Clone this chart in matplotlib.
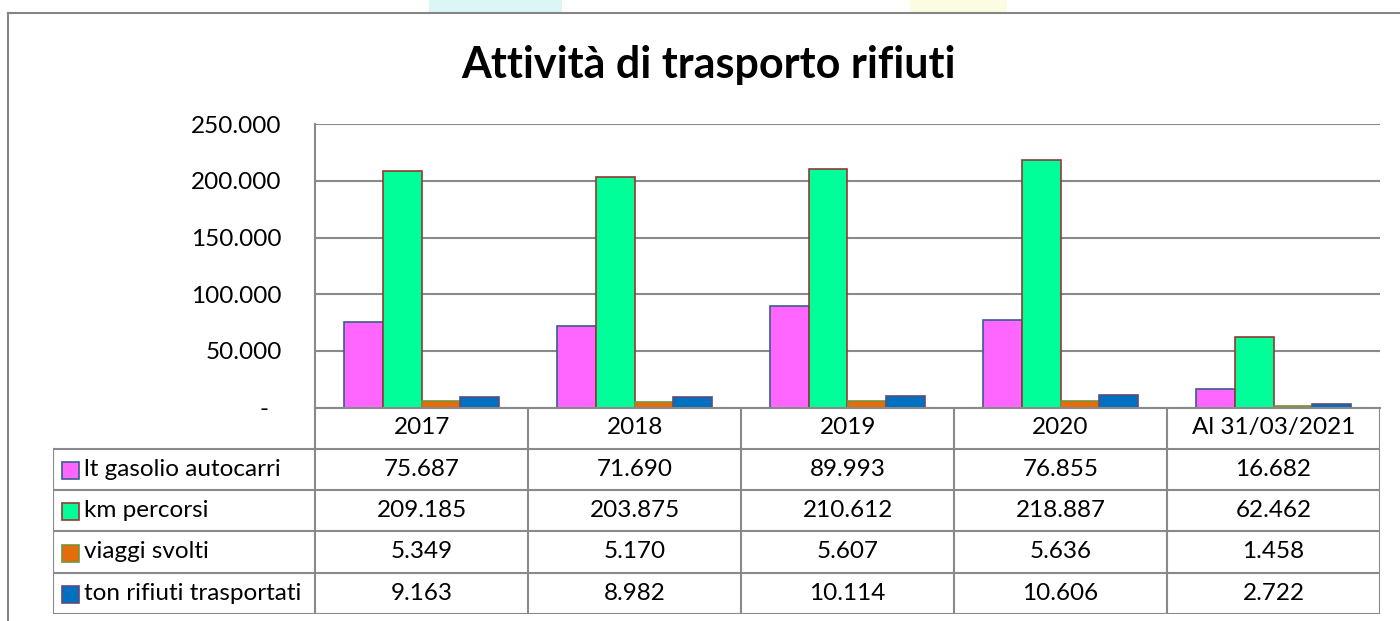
import numpy as np
import matplotlib
matplotlib.use("Agg")
import matplotlib.pyplot as plt
from matplotlib.lines import Line2D
from matplotlib.patches import Rectangle
from matplotlib.ticker import FuncFormatter

plt.rcParams['font.family'] = ['Lato', 'DejaVu Sans']

# data
categories = ["2017", "2018", "2019", "2020", "Al 31/03/2021"]
series_names = ["lt gasolio autocarri", "km percorsi", "viaggi svolti",
                "ton rifiuti trasportati"]
gasolio = [75687, 71690, 89993, 76855, 16682]
km_percorsi = [209185, 203875, 210612, 218887, 62462]
viaggi = [5349, 5170, 5607, 5636, 1458]
ton_rifiuti = [9163, 8982, 10114, 10606, 2722]
series_values = [gasolio, km_percorsi, viaggi, ton_rifiuti]

fill_colors = ['#FF66FF', '#00FF99', '#E46C0A', '#0070C0']
edge_colors = ['#385D8A', '#953735', '#77933C', '#604A7B']
line_grey = '#898989'
txt_size = 17.5

W, H = 1400, 621


def fx(px):
    return px / W


def fy(py):
    return 1 - py / H


def it_num(v):
    # italian thousands separator
    return f"{v:,}".replace(",", ".")


fig = plt.figure(figsize=(W / 100, H / 100), dpi=100)

# faint watermark remains at the top edge
fig.patches.append(Rectangle((fx(429), fy(12)), fx(562) - fx(429), fy(0) - fy(12),
                             transform=fig.transFigure, color='#DCF6F6', lw=0))
fig.patches.append(Rectangle((fx(910), fy(12)), fx(1007) - fx(910), fy(0) - fy(12),
                             transform=fig.transFigure, color='#FCFCE2', lw=0))

# outer chart frame (right and bottom sides are cut off)
fig.add_artist(Line2D([fx(8), fx(8)], [fy(12.5), 0], transform=fig.transFigure,
                      color='#858585', lw=1.5))
fig.add_artist(Line2D([fx(8), 1], [fy(12.5), fy(12.5)], transform=fig.transFigure,
                      color='#858585', lw=1.5))

fig.text(fx(708), fy(78), "Attività di trasporto rifiuti", ha='center',
         va='baseline', fontsize=31, fontweight='bold', color='black')

# bar plot area
ax = fig.add_axes([fx(315), fy(407.5), fx(1380) - fx(315), fy(124.3) - fy(407.5)])
x = np.arange(len(categories))
n = len(series_values)
bar_w = 0.183
for j, vals in enumerate(series_values):
    ax.bar(x + (j - (n - 1) / 2) * bar_w, vals, width=bar_w, color=fill_colors[j],
           edgecolor=edge_colors[j], linewidth=1.2, zorder=3)

ax.set_xlim(-0.5, len(categories) - 0.5)
ax.set_ylim(0, 250000)
ax.set_yticks(np.arange(0, 250001, 50000))
ax.yaxis.set_major_formatter(FuncFormatter(lambda v, p: it_num(int(v)) if v else "-  "))
ax.set_xticks([])
ax.tick_params(axis='y', length=0, pad=24, labelsize=txt_size)
ax.yaxis.grid(True, color=line_grey, lw=1.5, zorder=0)
for s in ['top', 'right']:
    ax.spines[s].set_visible(False)
for s in ['left', 'bottom']:
    ax.spines[s].set_color(line_grey)
    ax.spines[s].set_linewidth(1.5)

# data table below the plot
label_w = 1.232
tab = fig.add_axes([fx(53), fy(614), fx(1380) - fx(53), fy(407.3) - fy(614)])
tab.set_xlim(-0.5 - label_w, len(categories) - 0.5)
tab.set_ylim(n + 1, 0)
tab.axis('off')

x_left = -0.5 - label_w
x_right = len(categories) - 0.5
tab.plot([-0.5, x_right], [0, 0], color=line_grey, lw=1.5)
for r in range(1, n + 2):
    tab.plot([x_left, x_right], [r, r], color=line_grey, lw=1.5)
for c in range(len(categories) + 1):
    tab.plot([c - 0.5, c - 0.5], [0, n + 1], color=line_grey, lw=1.5)
tab.plot([x_left, x_left], [1, n + 1], color=line_grey, lw=1.5)

for i, cat in enumerate(categories):
    tab.text(i, 0.5, cat, ha='center', va='center', fontsize=txt_size)

key_w, key_h = 0.081, 0.41
for j, name in enumerate(series_names):
    yc = j + 1.5
    tab.add_patch(Rectangle((x_left + 0.04, yc - key_h / 2 + 0.03), key_w, key_h,
                            facecolor=fill_colors[j], edgecolor=edge_colors[j], lw=1.2))
    tab.text(x_left + 0.145, yc, name, ha='left', va='center', fontsize=txt_size)
    for i, v in enumerate(series_values[j]):
        tab.text(i, yc, it_num(v), ha='center', va='center', fontsize=txt_size)

fig.savefig("out.png", dpi=100)
